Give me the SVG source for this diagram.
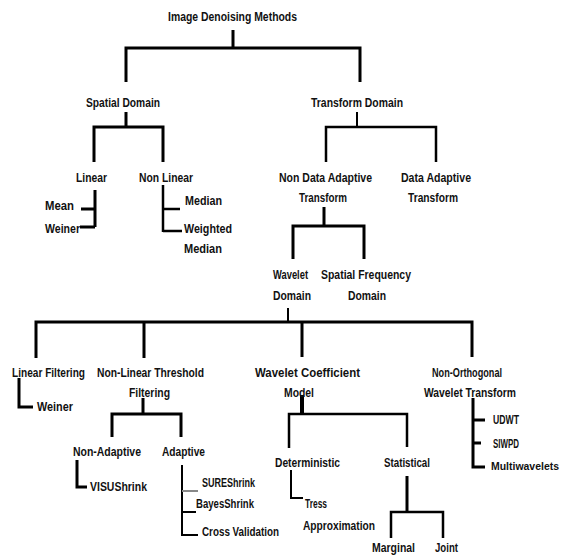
<svg xmlns="http://www.w3.org/2000/svg" width="564" height="558" viewBox="0 0 564 558">
<style>
text{font-family:"Liberation Sans",Arial,sans-serif;font-size:12px;font-weight:bold;fill:#111}
.c path{fill:none;stroke:#000;stroke-linecap:butt;stroke-linejoin:miter}
.w3{stroke-width:3}
.w2{stroke-width:2}
.w25{stroke-width:2.5}
</style>
<rect width="564" height="558" fill="#fff"/>
<g class="c" id="connectors">
<path class="w3" d="M233,30V48M126,82V48H360V82"/>
<path class="w3" d="M126,112V127M94,162V127H163V162"/>
<path class="w2" d="M357,112V127"/>
<path class="w25" d="M326,162V127H436V162"/>
<path class="w3" d="M95,190V227M81,209H95M80,227H95"/>
<path class="w25" d="M163,185V232M163,209H180M163,231H182"/>
<path class="w3" d="M324,207V226M293,259V226H364V259"/>
<path class="w2" d="M288,308V322"/>
<path class="w3" d="M36,358V322H472V357M144,322V358M302,322V357"/>
<path class="w3" d="M19,378V407H33"/>
<path class="w3" d="M143,398V414M112,437V414H181V437"/>
<path class="w3" d="M77,460V487H87"/>
<path class="w2" d="M182,465V535H198M182,512H196"/>
<path class="w2" d="M182,491H198" style="stroke:#888"/>
<path class="w3" d="M302,395V414" style="stroke-width:4"/>
<path class="w25" d="M289,448V414H407V447"/>
<path class="w2" d="M291,470V498H303"/>
<path class="w3" d="M407,476V512"/>
<path class="w25" d="M391,538V512H443V538"/>
<path class="w3" d="M473,398V467H485M473,420H485M473,443H481"/>
</g>
<g id="n-root"><text x="168" y="21" textLength="129" lengthAdjust="spacingAndGlyphs">Image Denoising Methods</text></g>
<g id="n-spatial"><text x="86" y="107" textLength="74" lengthAdjust="spacingAndGlyphs">Spatial Domain</text></g>
<g id="n-transform"><text x="311" y="107" textLength="92" lengthAdjust="spacingAndGlyphs">Transform Domain</text></g>
<g id="n-linear"><text x="76" y="182" textLength="31" lengthAdjust="spacingAndGlyphs">Linear</text></g>
<g id="n-nonlinear"><text x="139" y="182" textLength="54" lengthAdjust="spacingAndGlyphs">Non Linear</text></g>
<g id="n-nda"><text x="279" y="182" textLength="93" lengthAdjust="spacingAndGlyphs">Non Data Adaptive</text><text x="299" y="202" textLength="48" lengthAdjust="spacingAndGlyphs">Transform</text></g>
<g id="n-da"><text x="401" y="182" textLength="70" lengthAdjust="spacingAndGlyphs">Data Adaptive</text><text x="408" y="202" textLength="50" lengthAdjust="spacingAndGlyphs">Transform</text></g>
<g id="n-mean"><text x="45" y="210" textLength="29" lengthAdjust="spacingAndGlyphs">Mean</text></g>
<g id="n-weiner1"><text x="45" y="233" textLength="35" lengthAdjust="spacingAndGlyphs">Weiner</text></g>
<g id="n-median"><text x="185" y="205" textLength="37" lengthAdjust="spacingAndGlyphs">Median</text></g>
<g id="n-wmedian"><text x="184" y="233" textLength="48" lengthAdjust="spacingAndGlyphs">Weighted</text><text x="184" y="253" textLength="38" lengthAdjust="spacingAndGlyphs">Median</text></g>
<g id="n-wavelet"><text x="273" y="279" textLength="35" lengthAdjust="spacingAndGlyphs">Wavelet</text><text x="273" y="300" textLength="38" lengthAdjust="spacingAndGlyphs">Domain</text></g>
<g id="n-sfd"><text x="321" y="279" textLength="90" lengthAdjust="spacingAndGlyphs">Spatial Frequency</text><text x="348" y="300" textLength="38" lengthAdjust="spacingAndGlyphs">Domain</text></g>
<g id="n-linfilt"><text x="12" y="377" textLength="73" lengthAdjust="spacingAndGlyphs">Linear Filtering</text></g>
<g id="n-nlthresh"><text x="97" y="377" textLength="107" lengthAdjust="spacingAndGlyphs">Non-Linear Threshold</text><text x="129" y="397" textLength="41" lengthAdjust="spacingAndGlyphs">Filtering</text></g>
<g id="n-wcm"><text x="255" y="377" textLength="105" lengthAdjust="spacingAndGlyphs">Wavelet Coefficient</text><text x="284" y="397" textLength="30" lengthAdjust="spacingAndGlyphs">Model</text></g>
<g id="n-nowt"><text x="432" y="377" textLength="70" lengthAdjust="spacingAndGlyphs">Non-Orthogonal</text><text x="424" y="397" textLength="92" lengthAdjust="spacingAndGlyphs">Wavelet Transform</text></g>
<g id="n-weiner2"><text x="37" y="411" textLength="36" lengthAdjust="spacingAndGlyphs">Weiner</text></g>
<g id="n-nonadaptive"><text x="73" y="456" textLength="68" lengthAdjust="spacingAndGlyphs">Non-Adaptive</text></g>
<g id="n-adaptive"><text x="162" y="456" textLength="43" lengthAdjust="spacingAndGlyphs">Adaptive</text></g>
<g id="n-visu"><text x="90" y="491" textLength="57" lengthAdjust="spacingAndGlyphs">VISUShrink</text></g>
<g id="n-sure"><text x="202" y="487" textLength="53" lengthAdjust="spacingAndGlyphs">SUREShrink</text></g>
<g id="n-bayes"><text x="196" y="508" textLength="58" lengthAdjust="spacingAndGlyphs">BayesShrink</text></g>
<g id="n-cv"><text x="202" y="536" textLength="77" lengthAdjust="spacingAndGlyphs">Cross Validation</text></g>
<g id="n-det"><text x="275" y="467" textLength="65" lengthAdjust="spacingAndGlyphs">Deterministic</text></g>
<g id="n-stat"><text x="384" y="467" textLength="46" lengthAdjust="spacingAndGlyphs">Statistical</text></g>
<g id="n-tress"><text x="305" y="508" textLength="22" lengthAdjust="spacingAndGlyphs">Tress</text><text x="303" y="530" textLength="72" lengthAdjust="spacingAndGlyphs">Approximation</text></g>
<g id="n-marginal"><text x="372" y="552" textLength="43" lengthAdjust="spacingAndGlyphs">Marginal</text></g>
<g id="n-joint"><text x="435" y="552" textLength="23" lengthAdjust="spacingAndGlyphs">Joint</text></g>
<g id="n-udwt"><text x="493" y="424" textLength="26" lengthAdjust="spacingAndGlyphs">UDWT</text></g>
<g id="n-siwpd"><text x="493" y="448" textLength="26" lengthAdjust="spacingAndGlyphs">SIWPD</text></g>
<g id="n-multi"><text x="491" y="470" style="font-size:10.5px" textLength="68" lengthAdjust="spacingAndGlyphs">Multiwavelets</text></g>
</svg>
